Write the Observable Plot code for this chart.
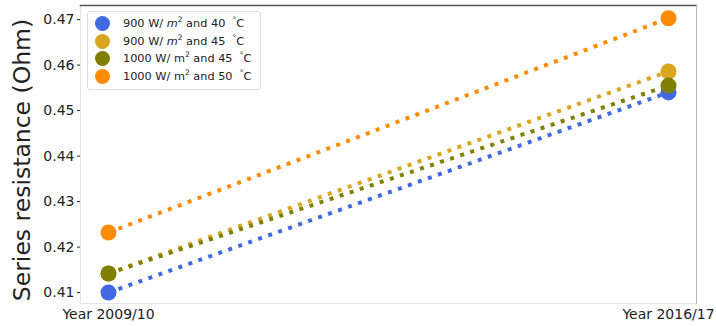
<!DOCTYPE html>
<html>
<head>
<meta charset="utf-8">
<script src="https://cdn.jsdelivr.net/npm/d3@7"></script>
<script src="https://cdn.jsdelivr.net/npm/@observablehq/plot@0.6"></script>
<style>
  body { margin: 0; background: #fff; font-family: "DejaVu Sans", sans-serif; }
  #wrap { position: relative; width: 716px; height: 326px; }
  #legend { position: absolute; left: 87px; top: 11px; width: 174px; height: 79px; border: 1px solid #ddd; border-radius: 3px; background: rgba(255,255,255,0.85); box-sizing: border-box; padding-top: 3px; }
  .row { display: flex; align-items: center; height: 17.6px; font-size: 11.3px; color: #222; white-space: nowrap; }
  .sw { width: 15px; height: 15px; border-radius: 50%; margin-left: 7px; margin-right: 13px; flex: none; }
  sup { font-size: 7.5px; line-height: 0; }
</style>
</head>
<body>
<div id="wrap"><div id="chart"></div><div id="legend"></div></div>
<script>
const years = ["Year 2009/10", "Year 2016/17"];
const seriesNames = ["900 W/ m2 and 40 °C", "900 W/ m2 and 45 °C", "1000 W/ m2 and 45 °C", "1000 W/ m2 and 50 °C"];
const seriesLabelsHtml = [
  "900 W/ <i>m</i><sup>2</sup> and 40 &nbsp;<sup>°</sup>C",
  "900 W/ <i>m</i><sup>2</sup> and 45 &nbsp;<sup>°</sup>C",
  "1000 W/ m<sup>2</sup> and 45 &nbsp;<sup>°</sup>C",
  "1000 W/ m<sup>2</sup> and 50 &nbsp;<sup>°</sup>C"
];
const colors = ["#4169E1", "#DAA520", "#808000", "#FF8C00"];
const s900_40 = [0.4100, 0.4540];
const s900_45 = [0.4142, 0.4586];
const s1000_45 = [0.4142, 0.4555];
const s1000_50 = [0.4232, 0.4703];
const yTicks = [0.41, 0.42, 0.43, 0.44, 0.45, 0.46, 0.47];

const allSeries = [s900_40, s900_45, s1000_45, s1000_50];
const data = [];
allSeries.forEach((vals, si) => vals.forEach((v, i) => data.push({series: seriesNames[si], xi: i, year: years[i], value: v})));

const lineMarks = seriesNames.map((name, si) =>
  Plot.line(data.filter(d => d.series === name), {x: "xi", y: "value", stroke: colors[si], strokeWidth: 4, strokeDasharray: "4,6.6", strokeLinecap: "butt"}));
const dotMarks = seriesNames.map((name, si) =>
  Plot.dot(data.filter(d => d.series === name), {x: "xi", y: "value", r: 8, fill: colors[si], stroke: "none"}));

const chart = Plot.plot({
  width: 716, height: 326,
  marginLeft: 80, marginRight: 20, marginTop: 5, marginBottom: 23,
  style: {fontFamily: "DejaVu Sans, sans-serif", fontSize: "14px", color: "#222", background: "#fff"},
  x: {domain: [-0.05, 1.05], ticks: [0, 1], tickFormat: i => years[i], tickSize: 0, tickPadding: 6, label: null},
  y: {domain: [0.4076, 0.4731], ticks: yTicks, tickFormat: d => d.toFixed(2), tickSize: 3, tickPadding: 3, label: null},
  marks: [
    Plot.frame({stroke: "#e4e4e4"}),
    Plot.frame({anchor: "top", stroke: "#555", strokeWidth: 1.5}),
    Plot.frame({anchor: "right", stroke: "#bbb"}),
    ...lineMarks,
    ...dotMarks
  ]
});
const svg = d3.select(chart);
svg.selectAll("[aria-label='x-axis tick label'] text").attr("font-size", 14);
svg.append("text")
  .attr("transform", "translate(23,160) rotate(-90)")
  .attr("text-anchor", "middle")
  .attr("dominant-baseline", "middle")
  .attr("font-size", 23.5)
  .attr("fill", "#222")
  .text("Series resistance (Ohm)");
document.getElementById("chart").appendChild(chart);

const legend = document.getElementById("legend");
seriesLabelsHtml.forEach((lab, i) => {
  const row = document.createElement("div");
  row.className = "row";
  row.innerHTML = `<span class="sw" style="background:${colors[i]}"></span><span>${lab}</span>`;
  legend.appendChild(row);
});
</script>
</body>
</html>
